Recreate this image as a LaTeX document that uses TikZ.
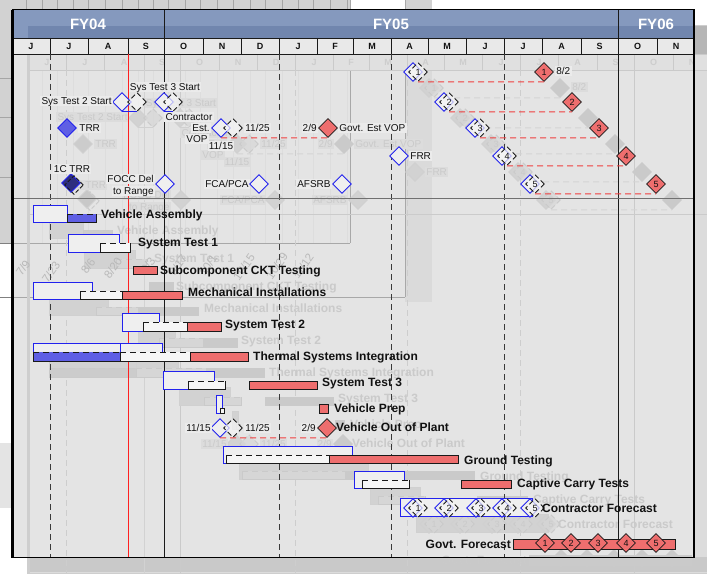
\documentclass[tikz,border=0pt]{standalone}
\usepackage{fontspec}
\setmainfont{Liberation Sans}
\usetikzlibrary{shapes.geometric}

\newif\ifghostpass
\newcommand\maincolors{%
\definecolor{cHead}{HTML}{8599BE}%
\definecolor{cHeadDk}{HTML}{7186AE}%
\definecolor{cMonth}{HTML}{E9E9E9}%
\definecolor{cMtx}{HTML}{111111}%
\definecolor{cFYtx}{HTML}{FFFFFF}%
\definecolor{cLn}{HTML}{1A1A1A}%
\definecolor{cQ}{HTML}{3A3A3A}%
\definecolor{cToday}{HTML}{FF2020}%
\definecolor{cSep}{HTML}{707070}%
\definecolor{cBl}{HTML}{2222EE}%
\definecolor{cBf}{HTML}{EFEFEF}%
\definecolor{cBlf}{HTML}{5F5FE4}%
\definecolor{cNavy}{HTML}{2E2E7E}%
\definecolor{cWf}{HTML}{F6F6F6}%
\definecolor{cRf}{HTML}{EE6E6E}%
\definecolor{cRd}{HTML}{F03E3E}%
\definecolor{cTx}{HTML}{111111}%
\definecolor{cLbg}{HTML}{EBEBEB}%
\definecolor{cFrame}{HTML}{000000}%
}
\newcommand\ghostcolors{%
\definecolor{cHead}{HTML}{B6B6B6}%
\definecolor{cHeadDk}{HTML}{B6B6B6}%
\definecolor{cMonth}{HTML}{E0E0E0}%
\definecolor{cMtx}{HTML}{CDCDCD}%
\definecolor{cFYtx}{HTML}{CFCFCF}%
\definecolor{cLn}{HTML}{CACACA}%
\definecolor{cQ}{HTML}{CDCDCD}%
\definecolor{cToday}{HTML}{D2D2D2}%
\definecolor{cSep}{HTML}{CBCBCB}%
\definecolor{cBl}{HTML}{D0D0D0}%
\definecolor{cBf}{HTML}{D2D2D2}%
\definecolor{cBlf}{HTML}{CCCCCC}%
\definecolor{cNavy}{HTML}{C8C8C8}%
\definecolor{cWf}{HTML}{D6D6D6}%
\definecolor{cRf}{HTML}{CACACA}%
\definecolor{cRd}{HTML}{D4D4D4}%
\definecolor{cTx}{HTML}{CACACA}%
\definecolor{cLbg}{HTML}{DCDCDC}%
\definecolor{cFrame}{HTML}{CECECE}%
}
\maincolors
\definecolor{pagegray}{HTML}{D2D2D2}
\definecolor{gridc}{HTML}{A6A6A6}
\definecolor{ghostbg}{HTML}{DCDCDC}
\definecolor{ghostbot}{HTML}{C9C9C9}
\definecolor{mainbg}{HTML}{E4E4E4}
\definecolor{stripc}{HTML}{DADADA}
\definecolor{faintc}{HTML}{DDDDDD}
\definecolor{panelc}{HTML}{A8A8A8}
\definecolor{dategray}{HTML}{B9B9B9}

\tikzset{
 dia/.style={shape=diamond, aspect=1, minimum width=19pt, minimum height=19pt, inner sep=0pt},
 bdia/.style={dia, draw=cBl, fill=cBf, line width=0.9pt},
 fdia/.style={dia, draw=cLn, fill=cWf, fill opacity=0.7, text opacity=1, line width=0.9pt, dash pattern=on 5pt off 3pt, font=\fontsize{9}{9}\selectfont, text=cTx},
 rdia/.style={dia, draw=cLn, fill=cRf, line width=0.7pt, font=\fontsize{9}{9}\selectfont, text=cTx},
 tdia/.style={dia, draw=cBl, fill=cBlf, line width=0.9pt},
 ndia/.style={dia, draw=cBl, fill=cNavy, line width=0.9pt},
 blrect/.style={draw=cBl, fill=cBf, line width=0.9pt},
 redbar/.style={draw=cLn, fill=cRf, line width=0.7pt},
 blab/.style={anchor=west, inner sep=0pt, font=\fontsize{12}{12}\selectfont\bfseries, text=cTx, text height=8.6pt, text depth=0pt},
 mlab/.style={inner sep=1.2pt, font=\fontsize{10}{10}\selectfont, text=cTx, fill=cLbg, text height=7.2pt, text depth=0.5pt},
 mtx/.style={font=\fontsize{9}{9}\selectfont\bfseries, text=cMtx, inner sep=0pt},
 fytx/.style={font=\fontsize{15}{15}\selectfont\bfseries, text=cFYtx, inner sep=0pt},
 slip/.style={draw=cBl, line width=0.9pt},
 rdash/.style={draw=cRd, line width=1pt, dash pattern=on 6pt off 4pt},
 datel/.style={font=\fontsize{11.5}{11.5}\selectfont, text=dategray, rotate=55, inner sep=0pt},
}

\newcommand\fcbar[5]{%
  \fill[#1] (#2,#3) rectangle (#4,#5);
  \draw[cLn,line width=0.8pt] (#2,#3) -- (#2,#5) -- (#4,#5) -- (#4,#3);
  \draw[cLn,line width=1pt,dash pattern=on 6pt off 4pt] (#2,#3) -- (#4,#3);
}

\newcommand\chartbody{%
% header
\fill[cHead] (12,10) rectangle (695,38);
\fill[cHeadDk] (28,26) rectangle (695,38);
\fill[cMonth] (12,38) rectangle (695,54);
\draw[cLn,line width=0.8pt] (12,38) -- (695,38) (12,54) -- (695,54);
\foreach \b in {50,88,128,203,241,279,317,353,391,428,466,504,542,581,657}
  \draw[cLn,line width=0.8pt] (\b,38) -- (\b,54);
\foreach \c/\l [count=\i] in {31/J,69/J,108/A,146/S,183.5/O,222/N,260/D,298/J,335/F,372/M,409.5/A,447/M,485/J,523/J,561.5/A,599.5/S,637.5/O,676/N}
  \node[mtx] (mo\i) at (\c,46.5) {\l};
\ifghostpass\else
\node[fytx] (fy04) at (88,24) {FY04};
\node[fytx] (fy05) at (391,24) {FY05};
\node[fytx] (fy06) at (656,24) {FY06};
\fi
% vertical lines
\draw[cLn,line width=0.9pt] (164,10) -- (164,557) (618,10) -- (618,557);
\foreach \q in {50,279,391,504}
  \draw[cQ,line width=1pt,dash pattern=on 6pt off 4pt] (\q,54) -- (\q,557);
\draw[cToday,line width=1pt] (128,54) -- (128,557);
\draw[cSep,line width=0.9pt] (12,198) -- (694,198);
% ---------- bars
\draw[blrect] (33,205) rectangle (67,222);
\fcbar{cBlf}{67}{214}{96}{222}
\node[blab] (va) at (101,214) {Vehicle Assembly};
\draw[blrect] (68,234) rectangle (119,252);
\fcbar{cWf}{100}{243}{130}{252}
\node[blab] (st1) at (138,242) {System Test 1};
\draw[redbar] (133,266) rectangle (157,274);
\node[blab] (sub) at (160,270) {Subcomponent CKT Testing};
\draw[blrect] (33,282) rectangle (92,299);
\fcbar{cWf}{80}{291}{122}{299}
\draw[redbar] (122,291) rectangle (182,299);
\node[blab] (mi) at (188,292) {Mechanical Installations};
\draw[blrect] (122,313) rectangle (159,331);
\fcbar{cWf}{143}{322}{187}{331}
\draw[redbar] (187,322) rectangle (221,331);
\node[blab] (st2) at (225,324) {System Test 2};
\draw[blrect] (33,343) rectangle (120,361);
\draw[blrect] (120,343) rectangle (162,361);
\fcbar{cBlf}{33}{352}{120}{361}
\fcbar{cWf}{120}{352}{190}{361}
\draw[redbar] (190,352) rectangle (248,361);
\node[blab] (tsi) at (253,356) {Thermal Systems Integration};
\draw[blrect] (163,371) rectangle (214,389);
\fcbar{cWf}{188}{381}{225}{389}
\draw[redbar] (249,381) rectangle (317,389);
\node[blab] (st3) at (322,382) {System Test 3};
\draw[blrect] (216,395) rectangle (222,413);
\fcbar{cWf}{220}{408}{224}{413}
\draw[redbar] (319,404) rectangle (328,413);
\node[blab] (vp) at (334,408) {Vehicle Prep};
\node[bdia] (vo1) at (220,428) {};
\node[fdia] (vo2) at (233,428) {};
\node[mlab,anchor=east] (vo1l) at (212,428) {11/15};
\node[mlab,anchor=west] (vo2l) at (244,428) {11/25};
\node[rdia] (vo3) at (327,428) {};
\draw[rdash] (vo1.south) -- (vo3.south);
\node[mlab,anchor=east] (vo3l) at (317,428) {2/9};
\node[blab] (vop) at (336,427) {Vehicle Out of Plant};
\draw[blrect] (223,446) rectangle (352,463);
\fcbar{cWf}{226}{455}{329}{463}
\draw[redbar] (329,455) rectangle (458,463);
\node[blab] (gt) at (464,460) {Ground Testing};
\draw[blrect] (354,471) rectangle (404,488);
\fcbar{cWf}{362}{480}{409}{488}
\draw[redbar] (461,480) rectangle (511,488);
\node[blab] (cct) at (517,483) {Captive Carry Tests};
\draw[blrect] (400,498) rectangle (532,516);
\foreach \i/\cx in {1/413,2/444,3/476,4/502,5/530}{
  \node[bdia] (k\i) at (\cx,508) {};
  \node[fdia] (kf\i) at (\cx+5,508) {\i};
}
\node[blab] (cf) at (542,508) {Contractor Forecast};
\node[blab,anchor=east] (gfl) at (511,544) {Govt. Forecast};
\draw[redbar] (513,539) rectangle (675,549);
\foreach \i/\gx in {1/545,2/571,3/598,4/626,5/656}
  \node[rdia] (gf\i) at (\gx,543) {\i};
% ---------- milestones
\node[bdia] (s2) at (122,102) {};
\node[fdia] (s2f) at (137,102) {};
\draw[slip] (s2.south) -- (s2f.south);
\node[mlab,anchor=east] (s2l) at (113,101) {Sys Test 2 Start};
\node[bdia] (s3) at (164,102) {};
\node[fdia] (s3f) at (173,102) {};
\draw[slip] (s3.south) -- (s3f.south);
\node[mlab] (s3l) at (165,87) {Sys Test 3 Start};
\node[tdia] (trr) at (67,128) {};
\node[mlab,anchor=west] (trrl) at (78,128) {TRR};
\node[ndia] (ctrr) at (71,183) {};
\node[dia,draw=cLn,dash pattern=on 4pt off 2pt,line width=0.9pt] (ctrrf) at (74,185) {};
\node[mlab] (ctrrl) at (72,169) {1C TRR};
\node[mlab] (cvl1) at (189,117) {Contractor};
\node[mlab,anchor=east] (cvl2) at (211,128) {Est.};
\node[mlab,anchor=east] (cvl3) at (209,139) {VOP};
\node[bdia] (cv) at (221,128) {};
\node[fdia] (cvf) at (233,128) {};
\node[mlab] (cvd1) at (221,146) {11/15};
\node[mlab,anchor=west] (cvd2) at (244,128) {11/25};
\node[rdia] (gv) at (328,128) {};
\draw[rdash] (cv.south) -- (gv.south);
\node[mlab,anchor=east] (gvd) at (318,128) {2/9};
\node[mlab,anchor=west] (gvl) at (338,128) {Govt. Est VOP};
\node[mlab,anchor=east] (foccl1) at (155,179) {FOCC Del};
\node[mlab,anchor=east] (foccl2) at (155,191) {to Range};
\node[bdia] (focc) at (165,184) {};
\node[mlab,anchor=east] (fcal) at (250,184) {FCA/PCA};
\node[bdia] (fca) at (259,184) {};
\node[mlab,anchor=east] (afl) at (332,184) {AFSRB};
\node[bdia] (afs) at (342,184) {};
\node[bdia] (frr) at (399,156) {};
\node[mlab,anchor=west] (frrl) at (409,156) {FRR};
\foreach \i/\cx/\cy/\gx in {1/413/72/544,2/444/102/572,3/475/128/599,4/502/156/626,5/530/184/656}{
  \node[bdia] (c\i) at (\cx,\cy) {};
  \node[fdia] (cf\i) at (\cx+5,\cy) {\i};
  \node[rdia] (g\i) at (\gx,\cy) {\i};
  \draw[rdash] (cf\i.south) -- (g\i.south);
}
\node[mlab,anchor=west] (g1d) at (555,71) {8/2};
% ---------- frame
\draw[cFrame,line width=1pt] (12,10) -- (695,10);
\draw[cFrame,line width=1pt] (12,557) -- (695,557);
\draw[cFrame,line width=2.5pt] (12.5,10) -- (12.5,557.5);
\draw[cFrame,line width=2.5pt] (694,10) -- (694,557.5);
}

\begin{document}
\begin{tikzpicture}[x=1pt,y=-1pt]
\useasboundingbox (0,0) rectangle (707,575);
\clip (0,0) rectangle (707,575);
\fill[white] (0,0) rectangle (707,575);
% outside panels
\fill[pagegray] (0,0) rectangle (350,10);
\fill[pagegray] (0,0) rectangle (12,243);
\fill[pagegray] (405,0) rectangle (432,10);
\fill[mainbg] (0,443) rectangle (12,508);
\foreach \g in {26,42,57,73,88,105,122,138,153,168,185,200,217,233,250,265,282,298,313,330,347}
  \draw[gridc,line width=0.6pt] (\g,0) -- (\g,10);
\foreach \h in {78,117,177}
  \draw[gridc,line width=0.6pt] (0,\h) -- (12,\h);
% ghost background
\fill[ghostbg] (28,26) rectangle (711,573);
\fill[ghostbot] (28,557) rectangle (711,572);
% main background
\fill[mainbg] (12,10) rectangle (695,557);
\fill[stripc] (405,54) rectangle (432,302);
\foreach \g in {42,57,73,88,105,122,138,153,168,185,200,217,233,250,265,282,298,313,330,347}
  \draw[faintc,line width=0.6pt] (\g,70) -- (\g,243);
\draw[panelc,line width=0.7pt] (0,243) -- (350,243) (350,0) -- (350,10) (350,54) -- (350,243);
\draw[panelc,line width=0.7pt] (0,297) -- (405,297) (405,0) -- (405,10) (405,54) -- (405,297);
\draw[gray,line width=0.8pt] (0,243) -- (12,243) (0,297) -- (12,297);
% ghost copy
\begin{scope}[shift={(16,16)}]
\ghostpasstrue
\ghostcolors
\chartbody
\end{scope}
% faded date axis
\foreach \d/\dx/\dy [count=\i] in {{7/9}/23/268,{7/23}/51/272,{8/6}/88/266,{8/20}/113/268,{9/3}/148/265,{9/17}/178/265,{10/1}/208/265,{10/15}/244/267,{10/29}/277/266,{11/12}/303/266}
  \node[datel] (dt\i) at (\dx,\dy) {\d};
% main chart
\ghostpassfalse
\chartbody
\end{tikzpicture}
\end{document}
